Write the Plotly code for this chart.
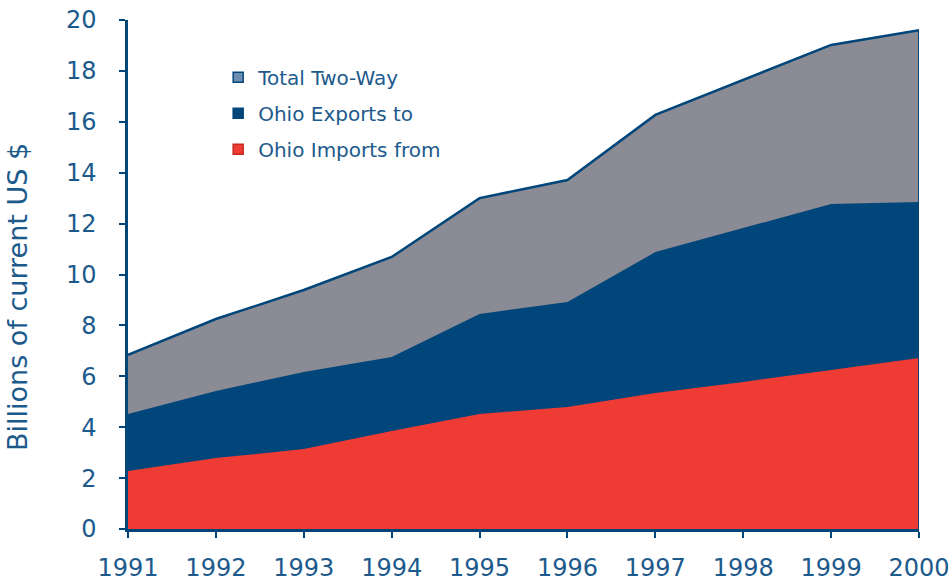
import plotly.graph_objects as go

years = [1991, 1992, 1993, 1994, 1995, 1996, 1997, 1998, 1999, 2000]
total_two_way = [6.84, 8.25, 9.39, 10.69, 13.0, 13.71, 16.27, 17.64, 19.02, 19.6]
ohio_exports_to = [4.52, 5.42, 6.17, 6.76, 8.45, 8.92, 10.88, 11.83, 12.77, 12.85]
ohio_imports_from = [2.28, 2.79, 3.14, 3.85, 4.52, 4.79, 5.34, 5.78, 6.25, 6.72]
y_ticks = [0, 2, 4, 6, 8, 10, 12, 14, 16, 18, 20]

NAVY = "#00467a"
GRAY = "#8b8b95"
RED = "#ee3b33"
TEXT = "#1d5a8c"
FONT = "DejaVu Sans"

fig = go.Figure()
fig.add_trace(go.Scatter(x=years, y=total_two_way, fill="tozeroy", mode="lines",
                         line=dict(color=NAVY, width=2.5), fillcolor=GRAY,
                         showlegend=False, hoverinfo="skip"))
fig.add_trace(go.Scatter(x=years, y=ohio_exports_to, fill="tozeroy", mode="lines",
                         line=dict(width=0), fillcolor=NAVY,
                         showlegend=False, hoverinfo="skip"))
fig.add_trace(go.Scatter(x=years, y=ohio_imports_from, fill="tozeroy", mode="lines",
                         line=dict(width=0), fillcolor=RED,
                         showlegend=False, hoverinfo="skip"))
# right edge outline of the areas
fig.add_trace(go.Scatter(x=[years[-1], years[-1]], y=[0, total_two_way[-1]], mode="lines",
                         line=dict(color=NAVY, width=2), showlegend=False, hoverinfo="skip"))

# legend entries
legend_items = [
    ("Total Two-Way", "#6f8db0", NAVY),
    ("Ohio Exports to", NAVY, NAVY),
    ("Ohio Imports from", RED, "#c8281f"),
]
for i, (name, fc, lc) in enumerate(legend_items):
    fig.add_trace(go.Scatter(x=[None], y=[None], mode="markers", name=name,
                             legendgroup=f"g{i}",
                             marker=dict(symbol="square", size=10, color=fc,
                                         line=dict(color=lc, width=1.5))))

fig.add_annotation(text="Billions of current US $", textangle=-90,
                   xref="paper", yref="paper", x=-0.139, y=0.456,
                   xanchor="center", yanchor="middle", showarrow=False,
                   font=dict(size=27, color=TEXT, family=FONT))

fig.update_layout(
    width=951, height=581,
    margin=dict(l=128, r=32, t=20, b=52),
    paper_bgcolor="white", plot_bgcolor="white",
    font=dict(family=FONT, color=TEXT),
    showlegend=True,
    legend=dict(x=0.114, y=0.926, xanchor="left", yanchor="top",
                bgcolor="rgba(0,0,0,0)", font=dict(size=20, color=TEXT, family=FONT),
                traceorder="grouped", tracegroupgap=7, itemwidth=30),
    xaxis=dict(range=[years[0], years[-1]], tickmode="array", tickvals=years,
               ticktext=[str(y) for y in years], showgrid=False, zeroline=False,
               showline=True, linecolor=NAVY, linewidth=2.5, automargin=False,
               ticks="outside", ticklen=6, tickwidth=2, tickcolor=NAVY,
               ticklabeloverflow="allow",
               tickfont=dict(size=24, color=TEXT, family=FONT), ticklabelstandoff=9),
    yaxis=dict(range=[0, 20], tickmode="array", tickvals=y_ticks,
               showgrid=False, zeroline=False, automargin=False,
               showline=True, linecolor=NAVY, linewidth=2.5,
               ticks="outside", ticklen=6, tickwidth=2, tickcolor=NAVY,
               ticklabeloverflow="allow",
               tickfont=dict(size=24, color=TEXT, family=FONT), ticklabelstandoff=18),
)

fig.write_html("out.html", config={"displayModeBar": False},
               post_script="document.body.style.margin='0';")
